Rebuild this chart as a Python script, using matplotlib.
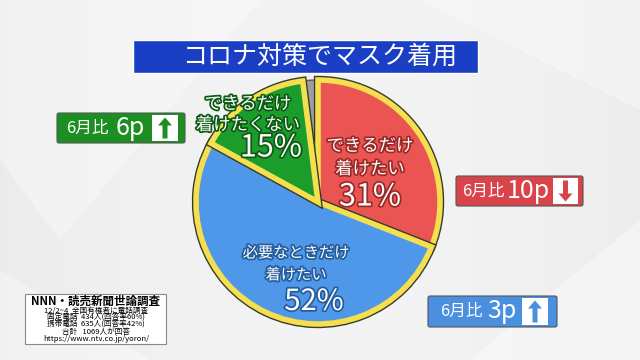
import numpy as np
import matplotlib.pyplot as plt
import matplotlib.patheffects as pe
from matplotlib.patches import Rectangle, FancyBboxPatch, Polygon

plt.rcParams['font.family'] = ['Noto Sans CJK JP', 'DejaVu Sans']

# データ
title = "コロナ対策でマスク着用"
labels = ["できるだけ\n着けたい", "必要なときだけ\n着けたい", "できるだけ\n着けたくない", "その他"]
values = [31, 52, 15, 2]
colors = ["#ea5452", "#4f97e8", "#1c9c2b", "#9c9ca6"]
dark = ["#9a2a28", "#245c9c", "#0c5a14", "#555555"]
changes = ["10p", "3p", "6p"]
up = [False, True, True]
box_colors = ["#d9444a", "#4a8fe0", "#1d8f22"]
note_lines = ["12/2~4  全国有権者に電話調査",
              "固定電話  434人(回答率60%)",
              "携帯電話  635人(回答率42%)",
              "合計   1069人が回答",
              "https://www.ntv.co.jp/yoron/"]

H = 360


def Y(v):
    # 上からのピクセル位置をデータ座標へ
    return H - v


fig = plt.figure(figsize=(6.4, 3.6), dpi=100)
ax = fig.add_axes([0, 0, 1, 1])

# 背景
gx = np.linspace(0, 1, 256)
g = 0.925 + 0.03 * np.abs(np.sin(gx * 3.0))
bg = np.dstack([np.tile(g, (2, 1))] * 3)
ax.imshow(bg, extent=[0, 640, 0, 360], aspect='auto', zorder=0)
for pts, a in [([(0, 360), (260, 360), (60, 120), (0, 200)], 0.35),
               ([(420, 360), (640, 360), (640, 250)], 0.35),
               ([(470, 0), (640, 0), (640, 140)], 0.4),
               ([(0, 0), (150, 0), (0, 90)], 0.35)]:
    ax.add_patch(Polygon(pts, closed=True, color='white', alpha=a, lw=0, zorder=0.5))

# タイトル
ax.add_patch(Rectangle((133, Y(73)), 345, 33, facecolor='#1b3fc4',
                       edgecolor='white', lw=1, zorder=2))
ax.text(320, Y(57), title, color='white', fontsize=18, ha='center', va='center', zorder=3)

# 円グラフ
wedges, _ = ax.pie(values, colors=colors, startangle=90, counterclock=False,
                   center=(318, Y(202)), radius=122,
                   explode=[0.035, 0.01, 0.025, 0.01],
                   wedgeprops=dict(edgecolor='#f4e04e', linewidth=4))
for w in wedges[:3]:
    w.set_zorder(2.5)
    w.set_path_effects([pe.Stroke(linewidth=6, foreground='#3a3a2a'), pe.Normal()])
wedges[3].set_zorder(2)
wedges[3].set_edgecolor('#555560')
wedges[3].set_linewidth(1)


def label(x, y, s, size, c):
    ax.text(x, Y(y), s, color='white', fontsize=size, ha='center', va='center',
            zorder=4, path_effects=[pe.withStroke(linewidth=2.5, foreground=c)])


lab = [l.split("\n") for l in labels]
label(370, 146, lab[0][0], 12.5, dark[0])
label(370, 169, lab[0][1], 12.5, dark[0])
label(370, 197, f"{values[0]}%", 22, dark[0])
label(296, 253, lab[1][0], 11, dark[1])
label(296, 275, lab[1][1], 11, dark[1])
label(314, 302, f"{values[1]}%", 21, dark[1])
label(248, 104, lab[2][0], 12.5, dark[2])
label(248, 125, lab[2][1], 12.5, dark[2])
label(271, 148, f"{values[2]}%", 22, dark[2])


# 6月比ボックス
def callout(x0, y0, x1, y1, c, ch, is_up, tx, px, sq):
    ax.add_patch(FancyBboxPatch((x0, Y(y1)), x1 - x0, y1 - y0,
                                boxstyle='round,pad=0,rounding_size=2',
                                facecolor=c, edgecolor='#555555', lw=0.8, zorder=3))
    yc = (y0 + y1) / 2
    ax.text(tx, Y(yc), "6月比", color='white', fontsize=12, ha='left', va='center', zorder=4)
    ax.text(px, Y(yc), ch, color='white', fontsize=18, ha='left', va='center', zorder=4)
    sx0, sx1 = sq
    ax.add_patch(Rectangle((sx0, Y(y1 - 2)), sx1 - sx0, y1 - y0 - 4,
                           facecolor='white', edgecolor='none', zorder=4))
    cx = (sx0 + sx1) / 2
    hh = (y1 - y0 - 4) / 2 - 2.5
    d = 1 if is_up else -1
    tip = Y(yc) + d * hh
    base = Y(yc) - d * hh
    neck = tip - d * 8
    arrow = [(cx, tip), (cx + 7, neck), (cx + 2.5, neck), (cx + 2.5, base),
             (cx - 2.5, base), (cx - 2.5, neck), (cx - 7, neck)]
    ax.add_patch(Polygon(arrow, closed=True, facecolor=c, edgecolor='none', zorder=5))


callout(456, 176, 583, 206, box_colors[0], changes[0], up[0], 462, 507, (553, 578))
callout(428, 296, 557, 327, box_colors[1], changes[1], up[1], 440, 487, (522, 548))
callout(57, 113, 185, 143, box_colors[2], changes[2], up[2], 66, 116, (152, 178))

# 調査概要
ax.add_patch(Rectangle((25, Y(344)), 141, 50, facecolor='white', edgecolor='#888888',
                       lw=0.8, zorder=3))
ax.text(96, Y(301), "NNN・読売新聞世論調査", fontsize=8.3, fontweight='bold',
        ha='center', va='center', zorder=4)
for i, s in enumerate(note_lines):
    ax.text(96, Y(311 + i * 6.9), s, fontsize=5.5, ha='center', va='center', zorder=4,
            linespacing=1.0)

ax.set_xlim(0, 640)
ax.set_ylim(0, 360)
ax.set_aspect('auto')
ax.axis('off')
fig.savefig('out.png', dpi=100)
